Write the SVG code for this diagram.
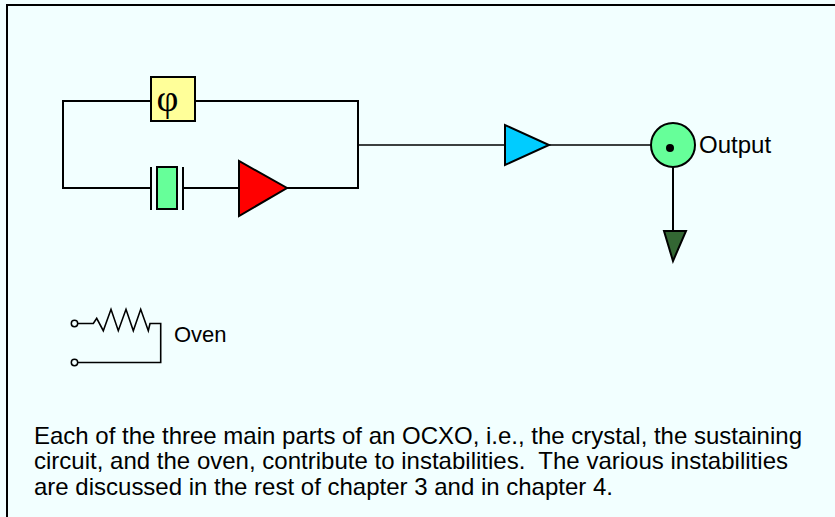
<svg xmlns="http://www.w3.org/2000/svg" width="835" height="517" viewBox="0 0 835 517">
<style>
.w{fill:none;stroke:#000;stroke-width:2;stroke-linecap:square}
.thin{fill:none;stroke:#000;stroke-width:1.6}
.sh{stroke:#000;stroke-width:2;stroke-linejoin:miter}
.t{font-family:"Liberation Sans",Arial,sans-serif;fill:#000}
</style>
<rect x="0" y="0" width="835" height="517" fill="#F2FFFF"/>
<rect id="frame" x="7" y="5" width="900" height="600" fill="none" stroke="#000" stroke-width="2"/>
<g id="connectors">
<polyline class="w" points="151,101 63,101 63,188 151,188"/>
<polyline class="w" points="195,101 358,101 358,188 287,188"/>
<line class="w" x1="183" y1="188" x2="239" y2="188"/>
<line class="thin" x1="358" y1="145" x2="505" y2="145"/>
<line class="thin" x1="549" y1="145" x2="670" y2="145"/>
<line class="w" x1="673" y1="148" x2="673" y2="231"/>
</g>
<g id="phase">
<rect class="sh" x="151" y="77" width="44" height="44" fill="#FFFF99"/>
<text x="167.5" y="111" font-family="'Liberation Serif','Times New Roman',serif" font-size="38" text-anchor="middle">φ</text>
</g>
<g id="crystal">
<line class="w" x1="151" y1="167" x2="151" y2="210" style="stroke-linecap:butt"/>
<line class="w" x1="183" y1="167" x2="183" y2="210" style="stroke-linecap:butt"/>
<rect class="sh" x="157" y="167" width="20" height="42" fill="#66FF99"/>
</g>
<g id="sustaining-amp">
<polygon class="sh" points="239,161 239,216 287,188" fill="#FF0000"/>
</g>
<g id="buffer-amp">
<polygon class="sh" points="505,125 505,165 549,145" fill="#00CCFF"/>
</g>
<g id="output">
<circle class="sh" cx="673" cy="145" r="22" fill="#66FF99"/>
<circle cx="670" cy="148" r="4" fill="#000"/>
<text class="t" x="699" y="153" font-size="24">Output</text>
</g>
<g id="ground">
<polygon class="sh" points="664,231 686,231 673,261" fill="#336633"/>
</g>
<g id="oven">
<circle cx="74.5" cy="323.5" r="3.2" fill="#F2FFFF" stroke="#000" stroke-width="1.5"/>
<circle cx="74.5" cy="362.5" r="3.2" fill="#F2FFFF" stroke="#000" stroke-width="1.5"/>
<polyline fill="none" stroke="#000" stroke-width="1.6" stroke-linejoin="miter" points="77.7,323.5 93.3,323.5 96.7,318.3 103.3,330.7 111,309.3 118.3,330.7 126,309.3 133.3,330.7 140.7,309.3 148.3,330.7 150,323.5 160.7,323.5 160.7,362.5 77.7,362.5"/>
<text class="t" x="174" y="342" font-size="22">Oven</text>
</g>
<g id="caption" class="t" font-size="24">
<text x="34" y="443.5" textLength="768" lengthAdjust="spacing">Each of the three main parts of an OCXO, i.e., the crystal, the sustaining</text>
<text x="34" y="469" textLength="754" lengthAdjust="spacing" xml:space="preserve">circuit, and the oven, contribute to instabilities.  The various instabilities</text>
<text x="34" y="494.5" textLength="579" lengthAdjust="spacing">are discussed in the rest of chapter 3 and in chapter 4.</text>
</g>
</svg>
